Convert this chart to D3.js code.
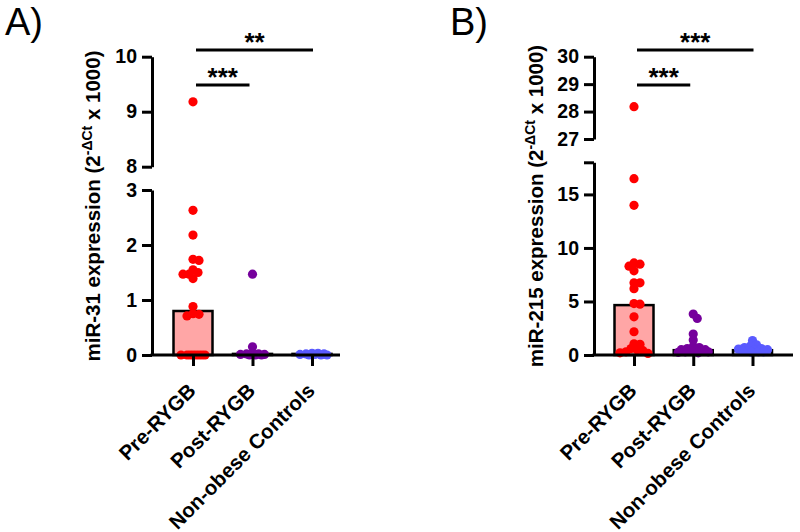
<!DOCTYPE html>
<html>
<head>
<meta charset="utf-8">
<script src="https://cdn.jsdelivr.net/npm/d3@7"></script>
<style>
  body { margin: 0; background: #fff; }
  svg { display: block; font-family: "Liberation Sans", Arial, sans-serif; }
</style>
</head>
<body>
<svg id="chart" width="800" height="532"></svg>
<script>
// ---------- data ----------
const categories = ["Pre-RYGB", "Post-RYGB", "Non-obese Controls"];

// Panel A: miR-31
const miR31Pre  = [9.18, 2.63, 2.18, 1.74, 1.72, 1.55, 1.50, 1.47, 1.47, 1.39, 0.88, 0.75, 0.74, 0.71, 0, 0, 0, 0, 0, 0, 0, 0];
const miR31Post = [1.47, 0.15, 0.03, 0.02, 0.02, 0.01, 0.01, 0, 0, 0];
const miR31Ctrl = [0.03, 0.03, 0.02, 0.02, 0.01, 0.01, 0, 0, 0];
const miR31Bars = [0.80, 0.02, 0.02];
const miR31TicksLow  = [0, 1, 2, 3];
const miR31TicksHigh = [8, 9, 10];
const miR31Sig = [{ from: 0, to: 2, label: "**" }, { from: 0, to: 1, label: "***" }];

// Panel B: miR-215
const miR215Pre  = [28.18, 16.47, 13.98, 8.60, 8.48, 8.30, 7.86, 6.74, 6.74, 6.20, 4.80, 4.75, 3.57, 2.17, 1.05, 1.00, 0.60, 0.50, 0.40, 0.30, 0.20, 0.15];
const miR215Post = [3.82, 3.42, 1.96, 1.40, 0.80, 0.70, 0.60, 0.50, 0.50, 0.45, 0.40, 0.35, 0.30, 0.30, 0.25, 0.20];
const miR215Ctrl = [1.35, 0.95, 0.85, 0.70, 0.60, 0.55, 0.50, 0.45, 0.40, 0.35, 0.30, 0.30, 0.25];
const miR215Bars = [4.66, 0.45, 0.45];
const miR215TicksLow  = [0, 5, 10, 15, 18];
const miR215TicksHigh = [27, 28, 29, 30];
const miR215Sig = [{ from: 0, to: 2, label: "***" }, { from: 0, to: 1, label: "***" }];

// ---------- styles ----------
const dotColors = ["#ff0000", "#75009c", "#5a5aff"];
const barFills  = ["#ffa6a6", "#c8a0dc", "#b4b4ff"];
const FONT = '"Liberation Sans", Arial, sans-serif';

const svg = d3.select("#chart");

function swarm(vals, cx, yOf, minD, half) {
  const placed = [];
  const order = vals.map((v, i) => i).sort((a, b) => vals[b] - vals[a]);
  const out = new Array(vals.length);
  for (const i of order) {
    const y = yOf(vals[i]);
    let chosen = null, bestOff = 0, bestD = -1;
    for (let k = 0; k <= half * 2; k++) {
      const off = (k % 2 ? 1 : -1) * Math.ceil(k / 2);
      let md = Infinity;
      for (const p of placed) md = Math.min(md, Math.hypot(p.x - (cx + off), p.y - y));
      if (md >= minD) { chosen = off; break; }
      if (md > bestD) { bestD = md; bestOff = off; }
    }
    if (chosen === null) chosen = bestOff;
    const pt = { x: cx + chosen, y };
    placed.push(pt);
    out[i] = pt;
  }
  return out;
}

function panel(cfg) {
  const g = svg.append("g");
  const yLow = d3.scaleLinear().domain(cfg.lowDomain).range(cfg.lowRange);
  const yHigh = d3.scaleLinear().domain(cfg.highDomain).range(cfg.highRange);
  const yOf = v => (v <= cfg.lowDomain[1] ? yLow(v) : yHigh(v));
  const x = d3.scalePoint().domain(categories).range(cfg.xRange);

  // panel letter
  g.append("text").attr("x", cfg.letterX).attr("y", 34.5)
    .attr("font-size", 38).attr("font-family", FONT).text(cfg.letter);

  // y title
  const t = g.append("text")
    .attr("transform", `translate(${cfg.titleX},206) rotate(-90)`)
    .attr("text-anchor", "middle").attr("font-size", 20.5).attr("font-weight", "bold")
    .attr("font-family", FONT);
  t.append("tspan").text(cfg.title + " expression (2");
  t.append("tspan").attr("dy", -8).attr("font-size", 14).text("-ΔCt");
  t.append("tspan").attr("dy", 8).text(" x 1000)");

  // bars
  g.selectAll("rect.bar").data(cfg.bars).join("rect")
    .attr("x", (d, i) => x(categories[i]) - 19.5)
    .attr("width", 39)
    .attr("y", d => yLow(d))
    .attr("height", d => yLow(0) - yLow(d))
    .attr("fill", (d, i) => barFills[i])
    .attr("stroke", "#000").attr("stroke-width", 2.5);

  // points
  cfg.groups.forEach((vals, gi) => {
    const pts = swarm(vals, x(categories[gi]), yOf, 5.5, 15);
    g.append("g").selectAll("circle").data(pts).join("circle")
      .attr("cx", d => d.x).attr("cy", d => d.y).attr("r", 4.6)
      .attr("fill", dotColors[gi]);
  });

  // y axes
  const styleAxis = sel => {
    sel.attr("font-size", null).attr("font-family", null);
    sel.selectAll("path.domain").attr("stroke-width", 3).attr("stroke", "#000");
    sel.selectAll(".tick line").attr("stroke-width", 3).attr("stroke", "#000");
    sel.selectAll(".tick text").attr("font-size", 19.5).attr("font-weight", "bold")
      .attr("font-family", FONT).attr("fill", "#000");
  };
  const fmt = d3.format("d");
  const lowAxis = d3.axisLeft(yLow).tickValues(cfg.ticksLow).tickSize(10).tickSizeOuter(0)
    .tickPadding(5).tickFormat(d => cfg.hiddenLow.includes(d) ? "" : fmt(d));
  g.append("g").attr("transform", `translate(${cfg.axisX},0)`).call(lowAxis).call(styleAxis);
  const highAxis = d3.axisLeft(yHigh).tickValues(cfg.ticksHigh).tickSize(10).tickSizeOuter(0)
    .tickPadding(5).tickFormat(fmt);
  g.append("g").attr("transform", `translate(${cfg.axisX},0)`).call(highAxis).call(styleAxis);

  // x axis
  g.append("line").attr("x1", cfg.axisX - 1.5).attr("x2", cfg.xEnd)
    .attr("y1", yLow(0)).attr("y2", yLow(0)).attr("stroke", "#000").attr("stroke-width", 3);
  const xAxis = d3.axisBottom(x).tickSize(11).tickSizeOuter(0).tickFormat("");
  const xg = g.append("g").attr("transform", `translate(0,${yLow(0)})`).call(xAxis).call(styleAxis);
  xg.select("path.domain").remove();

  // x labels
  g.selectAll("text.xl").data(categories).join("text")
    .attr("transform", d => `translate(${x(d) + 4},392) rotate(-45)`)
    .attr("text-anchor", "end").attr("font-size", 20.5).attr("font-weight", "bold")
    .attr("font-family", FONT).text(d => d);

  // significance
  cfg.sig.forEach((s, i) => {
    const ly = cfg.sigY[i];
    const x1 = x(categories[s.from]) + 3, x2 = x(categories[s.to]) + (s.to === 2 ? 1 : -3);
    g.append("line").attr("x1", x1).attr("x2", x2).attr("y1", ly).attr("y2", ly)
      .attr("stroke", "#000").attr("stroke-width", 3);
    g.append("text").attr("x", (x1 + x2) / 2).attr("y", ly + 1)
      .attr("text-anchor", "middle").attr("font-size", 26).attr("font-weight", "bold")
      .attr("font-family", FONT).text(s.label);
  });
}

panel({
  letter: "A)", letterX: 5, title: "miR-31", titleX: 100,
  axisX: 152, xRange: [193, 312], xEnd: 340,
  lowDomain: [0, 3], lowRange: [355, 190],
  highDomain: [8, 10], highRange: [166.7, 56.7],
  ticksLow: miR31TicksLow, ticksHigh: miR31TicksHigh, hiddenLow: [],
  bars: miR31Bars, groups: [miR31Pre, miR31Post, miR31Ctrl],
  sig: miR31Sig, sigY: [50, 85]
});

panel({
  letter: "B)", letterX: 450, title: "miR-215", titleX: 543,
  axisX: 594, xRange: [634, 752.5], xEnd: 793,
  lowDomain: [0, 18], lowRange: [355, 162.3],
  highDomain: [27, 30], highRange: [139, 56.7],
  ticksLow: miR215TicksLow, ticksHigh: miR215TicksHigh, hiddenLow: [18],
  bars: miR215Bars, groups: [miR215Pre, miR215Post, miR215Ctrl],
  sig: miR215Sig, sigY: [50, 85]
});
</script>
</body>
</html>
